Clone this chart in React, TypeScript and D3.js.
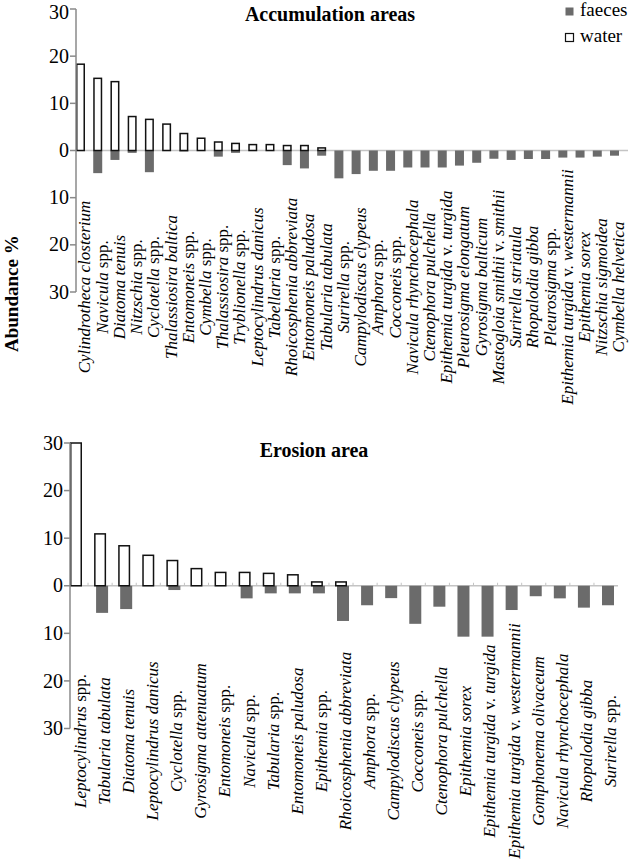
import { useEffect } from 'react';
import * as d3 from 'd3';

const topCategories = [
  'Cylindrotheca closterium', 'Navicula spp.', 'Diatoma tenuis', 'Nitzschia spp.', 'Cyclotella spp.',
  'Thalassiosira baltica', 'Entomoneis spp.', 'Cymbella spp.', 'Thalassiosira spp.', 'Tryblionella spp.',
  'Leptocylindrus danicus', 'Tabellaria spp.', 'Rhoicosphenia abbreviata', 'Entomoneis paludosa',
  'Tabularia tabulata', 'Surirella spp.', 'Campylodiscus clypeus', 'Amphora spp.', 'Cocconeis spp.',
  'Navicula rhynchocephala', 'Ctenophora pulchella', 'Epithemia turgida v. turgida', 'Pleurosigma elongatum',
  'Gyrosigma balticum', 'Mastogloia smithii v. smithii', 'Surirella striatula', 'Rhopalodia gibba',
  'Pleurosigma spp.', 'Epithemia turgida v. westermannii', 'Epithemia sorex', 'Nitzschia sigmoidea',
  'Cymbella helvetica',
];
const topWater = [18.3, 15.3, 14.6, 7.2, 6.6, 5.6, 3.6, 2.6, 1.8, 1.5, 1.25, 1.25, 1.05, 1.05, 0.55,
  0, 0, 0, 0, 0, 0, 0, 0, 0, 0, 0, 0, 0, 0, 0, 0, 0];
const topFaeces = [0, 4.8, 2.0, 0.5, 4.6, 0, 0.2, 0, 1.3, 0.5, 0, 0, 3.1, 3.8, 1.1,
  5.9, 5.0, 4.3, 4.3, 3.6, 3.6, 3.6, 3.2, 2.6, 1.75, 2.0, 1.8, 1.8, 1.5, 1.5, 1.3, 1.1];

const bottomCategories = [
  'Leptocylindrus spp.', 'Tabularia tabulata', 'Diatoma tenuis', 'Leptocylindrus danicus', 'Cyclotella spp.',
  'Gyrosigma attenuatum', 'Entomoneis spp.', 'Navicula spp.', 'Tabularia spp.', 'Entomoneis paludosa',
  'Epithemia spp.', 'Rhoicosphenia abbreviata', 'Amphora spp.', 'Campylodiscus clypeus', 'Cocconeis spp.',
  'Ctenophora pulchella', 'Epithemia sorex', 'Epithemia turgida v. turgida', 'Epithemia turgida v. westermannii',
  'Gomphonema olivaceum', 'Navicula rhynchocephala', 'Rhopalodia gibba', 'Surirella spp.',
];
const bottomWater = [30.0, 10.9, 8.4, 6.4, 5.3, 3.6, 2.8, 2.8, 2.6, 2.3, 0.8, 0.8,
  0, 0, 0, 0, 0, 0, 0, 0, 0, 0, 0];
const bottomFaeces = [0, 5.7, 4.9, 0, 0.9, 0, 0, 2.65, 1.6, 1.6, 1.6, 7.4,
  4.1, 2.6, 8.0, 4.4, 10.7, 10.7, 5.1, 2.2, 2.65, 4.6, 4.1];

const yTicks = [30, 20, 10, 0, -10, -20, -30];
const legendItems = ['faeces', 'water'];

const FONT = "'Liberation Serif', 'Times New Roman', serif";
const FAECES = '#6b6b6b';

// species names italic, "spp." and "v." upright
const Label = ({ text }: { text: string }) => (
  <>
    {text.split(' ').map((w, i) => (
      <tspan key={i} style={{ fontStyle: w === 'spp.' || w === 'v.' ? 'normal' : 'italic' }}>
        {(i > 0 ? ' ' : '') + w}
      </tspan>
    ))}
  </>
);

const Panel = ({ title, titleX, titleY, cats, water, faeces, x0, x1, pad, yTop, yBot, labelY, faecesShift, zeroEnd, catTicks }) => {
  const x = d3.scaleBand<string>().domain(cats).range([x0, x1]).paddingInner(pad).paddingOuter(0).align(0);
  const y = d3.scaleLinear().domain([-30, 30]).range([yBot, yTop]);
  const bw = x.bandwidth();
  const gap = x.step() - bw;
  return (
    <g>
      <text x={titleX} y={titleY} textAnchor="middle" style={{ fontFamily: FONT, fontWeight: 'bold', fontSize: 20 }}>{title}</text>
      {/* zero line */}
      <line x1={x0} x2={zeroEnd} y1={y(0)} y2={y(0)} stroke="#c4c4c4" strokeWidth={1.5} />
      {catTicks && cats.slice(1).map(c => (
        <line key={c} x1={x(c) - gap / 2} x2={x(c) - gap / 2} y1={y(0) - 3} y2={y(0)} stroke="#c4c4c4" strokeWidth={1} />
      ))}
      {/* faeces below zero */}
      {cats.map((c, i) => faeces[i] > 0 && (
        <rect key={'f' + c} x={x(c) + faecesShift} width={bw} y={y(0)} height={y(-faeces[i]) - y(0)} fill={FAECES} />
      ))}
      {/* water above zero */}
      {cats.map((c, i) => water[i] > 0 && (
        <rect key={'w' + c} x={x(c) + 0.75} width={bw - 1.5} y={y(water[i])} height={y(0) - y(water[i])} fill="#fff" stroke="#111" strokeWidth={1.5} />
      ))}
      {/* y axis */}
      <line x1={x0} x2={x0} y1={y(30)} y2={y(-30)} stroke="#8a8a8a" strokeWidth={1.5} />
      {yTicks.map((t, i) => (
        <g key={i} transform={`translate(0,${y(t)})`}>
          <line x1={x0 - 6} x2={x0} stroke="#8a8a8a" strokeWidth={1.5} />
          <text x={x0 - 7} y={Math.max(0, 12 - y(t))} dy="0.33em" textAnchor="end" style={{ fontFamily: FONT, fontSize: 20 }}>{Math.abs(t)}</text>
        </g>
      ))}
      {/* category labels */}
      {cats.map(c => (
        <text key={'l' + c} transform={`translate(${x(c) + bw / 2 + 4},${labelY}) rotate(-90)`} dy="0.35em"
          textAnchor="middle" style={{ fontFamily: FONT, fontSize: 17 }}>
          <Label text={c} />
        </text>
      ))}
    </g>
  );
};

export default function App() {
  useEffect(() => { document.body.style.margin = '0'; }, []);
  return (
    <svg width={630} height={861} style={{ display: 'block', background: '#fff' }}>
      <Panel title="Accumulation areas" titleX={330} titleY={21} cats={topCategories} water={topWater} faeces={topFaeces}
        x0={76} x1={619} pad={0.478} yTop={9} yBot={292} labelY={287} faecesShift={0} zeroEnd={628} catTicks={false} />
      <Panel title="Erosion area" titleX={314} titleY={457} cats={bottomCategories} water={bottomWater} faeces={bottomFaeces}
        x0={70} x1={612} pad={0.502} yTop={443} yBot={728.5} labelY={741} faecesShift={2} zeroEnd={618} catTicks={true} />
      <text transform="translate(11,352) rotate(-90)" dy="0.35em" style={{ fontFamily: FONT, fontWeight: 'bold', fontSize: 19 }}>Abundance %</text>
      {legendItems.map((k, i) => (
        <g key={k} transform={`translate(565,${[7, 33][i]})`}>
          <rect x={0.5} y={0.5} width={8} height={8} fill={k === 'faeces' ? FAECES : '#fff'} stroke={k === 'faeces' ? 'none' : '#111'} strokeWidth={1.2} />
          <text x={15} y={9} style={{ fontFamily: FONT, fontSize: 19 }}>{k}</text>
        </g>
      ))}
    </svg>
  );
}
